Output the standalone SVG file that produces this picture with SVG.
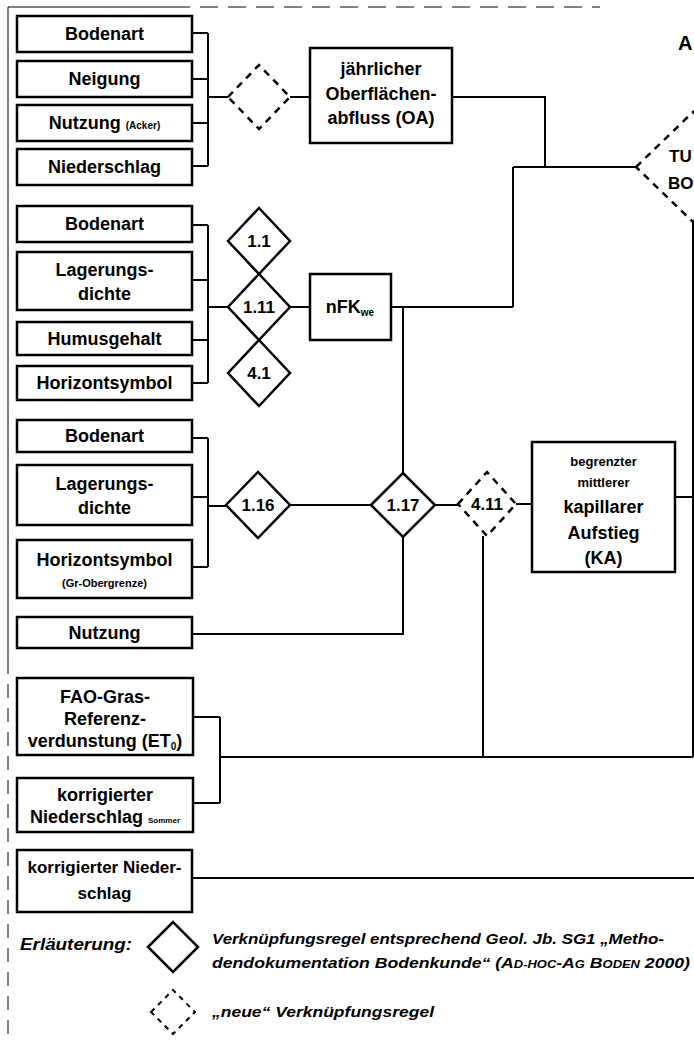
<svg xmlns="http://www.w3.org/2000/svg" width="694" height="1042" viewBox="0 0 694 1042">
<style>
.box{fill:#fff;stroke:#000;stroke-width:2.5}
.dia{fill:#fff;stroke:#000;stroke-width:2.5}
.dash{fill:#fff;stroke:#000;stroke-width:2.5;stroke-dasharray:7 6}
.ln{fill:none;stroke:#000;stroke-width:2}
.t{font-family:"Liberation Sans",Arial,sans-serif;font-size:18px;font-weight:bold;fill:#000;text-anchor:middle}
.s{font-size:13px}
.xs{font-size:10px}
.n{font-family:"Liberation Sans",Arial,sans-serif;font-size:17px;font-weight:bold;fill:#000;text-anchor:middle}
.lg{font-family:"Liberation Sans",Arial,sans-serif;font-style:italic;font-weight:bold;font-size:15px;fill:#000}
.frame{fill:none;stroke:#000;stroke-width:1}
</style>
<rect width="694" height="1042" fill="#fff"/>
<g id="frame">
<line class="frame" x1="8" y1="7" x2="8" y2="660"/>
<line class="frame" x1="8" y1="660" x2="8" y2="1040" stroke-dasharray="14 10"/>
<line class="frame" x1="8" y1="7" x2="190" y2="7"/>
<line class="frame" x1="200" y1="7" x2="600" y2="7" stroke-dasharray="18 10"/>
</g>
<g id="connectors">
<path class="ln" d="M192 33H208M192 79H208M192 123H208M192 166H208M208 33V166M208 97H228M290 97H310"/>
<path class="ln" d="M452 97H545V167M513 167H636M513 167V307M693 222V757"/>
<path class="ln" d="M192 225H208M192 280H208M192 340H208M192 383H208M208 225V383M208 307H228M290 307H310M391 307H513M403 307V473"/>
<path class="ln" d="M192 438H208M192 497H208M192 567H208M208 438V567M208 506H226M290 505H371M192 634H403V537M435 505H458M516 504H532M675 497H693M483 536V757"/>
<path class="ln" d="M193 717H220M193 803H220M220 717V803M220 757H693M192 878H694"/>
</g>
<g id="n-bodenart1"><rect class="box" x="17" y="16" width="175" height="36"/><text class="t" x="104.5" y="40">Bodenart</text></g>
<g id="n-neigung"><rect class="box" x="17" y="61" width="175" height="36"/><text class="t" x="104.5" y="85">Neigung</text></g>
<g id="n-nutzung1"><rect class="box" x="17" y="105" width="175" height="36"/><text class="t" x="104.5" y="129">Nutzung <tspan class="xs">(Acker)</tspan></text></g>
<g id="n-niederschlag"><rect class="box" x="17" y="149" width="175" height="36"/><text class="t" x="104.5" y="173">Niederschlag</text></g>
<g id="r-oa"><polygon class="dash" points="228,97 259,65 290,97 259,129"/></g>
<g id="n-oa"><rect class="box" x="310" y="48" width="142" height="95"/><text class="t" x="381" y="75">jährlicher</text><text class="t" x="381" y="100">Oberflächen-</text><text class="t" x="381" y="124">abfluss (OA)</text></g>
<g id="r-tubo"><polygon class="dash" points="636,167 693,112 750,167 693,222"/><text class="t" x="669" y="162" style="text-anchor:start;font-size:17px">TU</text><text class="t" x="668" y="189" style="text-anchor:start;font-size:17px">BO</text></g>
<g id="t-a"><text class="t" x="678" y="50" style="text-anchor:start;font-size:20px">A</text></g>
<g id="n-bodenart2"><rect class="box" x="17" y="206" width="175" height="36"/><text class="t" x="104.5" y="230">Bodenart</text></g>
<g id="n-lager1"><rect class="box" x="17" y="252" width="175" height="58"/><text class="t" x="104.5" y="276">Lagerungs-</text><text class="t" x="104.5" y="300">dichte</text></g>
<g id="n-humus"><rect class="box" x="17" y="322" width="175" height="33"/><text class="t" x="104.5" y="345">Humusgehalt</text></g>
<g id="n-horiz1"><rect class="box" x="17" y="366" width="175" height="34"/><text class="t" x="104.5" y="389">Horizontsymbol</text></g>
<g id="r-1-1"><polygon class="dia" points="228,241 259,208 290,241 259,274"/><text class="n" x="259" y="247">1.1</text></g>
<g id="r-1-11"><polygon class="dia" points="228,307 259,274 290,307 259,340"/><text class="n" x="259" y="313">1.11</text></g>
<g id="r-4-1"><polygon class="dia" points="228,373 259,340 290,373 259,406"/><text class="n" x="259" y="379">4.1</text></g>
<g id="n-nfk"><rect class="box" x="310" y="274" width="81" height="66"/><text class="t" x="350" y="313">nFK<tspan class="xs" dy="3">we</tspan></text></g>
<g id="n-bodenart3"><rect class="box" x="17" y="420" width="175" height="32"/><text class="t" x="104.5" y="442">Bodenart</text></g>
<g id="n-lager2"><rect class="box" x="17" y="465" width="175" height="60"/><text class="t" x="104.5" y="490">Lagerungs-</text><text class="t" x="104.5" y="514">dichte</text></g>
<g id="n-horiz2"><rect class="box" x="17" y="540" width="175" height="58"/><text class="t" x="104.5" y="566">Horizontsymbol</text><text class="t" x="104.5" y="587" style="font-size:11px">(Gr-Obergrenze)</text></g>
<g id="n-nutzung2"><rect class="box" x="17" y="617" width="175" height="31"/><text class="t" x="104.5" y="639">Nutzung</text></g>
<g id="r-1-16"><polygon class="dia" points="226,505 258,472 290,505 258,538"/><text class="n" x="258" y="511">1.16</text></g>
<g id="r-1-17"><polygon class="dia" points="371,505 403,473 435,505 403,537"/><text class="n" x="403" y="511">1.17</text></g>
<g id="r-4-11"><polygon class="dash" points="458,504 487,472 516,504 487,536"/><text class="n" x="487" y="510">4.11</text></g>
<g id="n-ka"><rect class="box" x="532" y="442" width="143" height="130"/><text class="t s" x="603.5" y="466">begrenzter</text><text class="t s" x="603.5" y="487">mittlerer</text><text class="t" x="603.5" y="513">kapillarer</text><text class="t" x="603.5" y="539">Aufstieg</text><text class="t" x="603.5" y="564">(KA)</text></g>
<g id="n-fao"><rect class="box" x="17" y="678" width="176" height="77"/><text class="t" x="105" y="703">FAO-Gras-</text><text class="t" x="105" y="725">Referenz-</text><text class="t" x="105" y="747">verdunstung (ET<tspan class="xs" dy="3">0</tspan><tspan dy="-3">)</tspan></text></g>
<g id="n-korr1"><rect class="box" x="17" y="778" width="176" height="54"/><text class="t" x="105" y="801">korrigierter</text><text class="t" x="105" y="823">Niederschlag <tspan style="font-size:8px">Sommer</tspan></text></g>
<g id="n-korr2"><rect class="box" x="17" y="850" width="175" height="62"/><text class="t" x="104.5" y="873" style="font-size:17px">korrigierter Nieder-</text><text class="t" x="104.5" y="899" style="font-size:17px">schlag</text></g>
<g id="legend">
<text class="lg" x="20" y="950" style="font-size:16px" textLength="112" lengthAdjust="spacingAndGlyphs">Erläuterung:</text>
<polygon class="dia" points="148,947 173,922 198,947 173,972"/>
<text class="lg" x="212" y="944" textLength="452" lengthAdjust="spacingAndGlyphs">Verknüpfungsregel entsprechend Geol. Jb. SG1 „Metho-</text>
<text class="lg" x="212" y="968" textLength="478" lengthAdjust="spacingAndGlyphs">dendokumentation Bodenkunde“ (A<tspan style="font-size:11px">D-HOC</tspan>-A<tspan style="font-size:11px">G</tspan> B<tspan style="font-size:11px">ODEN</tspan> 2000)</text>
<polygon class="dash" points="151,1012 173,990 195,1012 173,1034" style="stroke-width:2;stroke-dasharray:5 5"/>
<text class="lg" x="212" y="1017" textLength="222" lengthAdjust="spacingAndGlyphs">„neue“ Verknüpfungsregel</text>
</g>
</svg>
